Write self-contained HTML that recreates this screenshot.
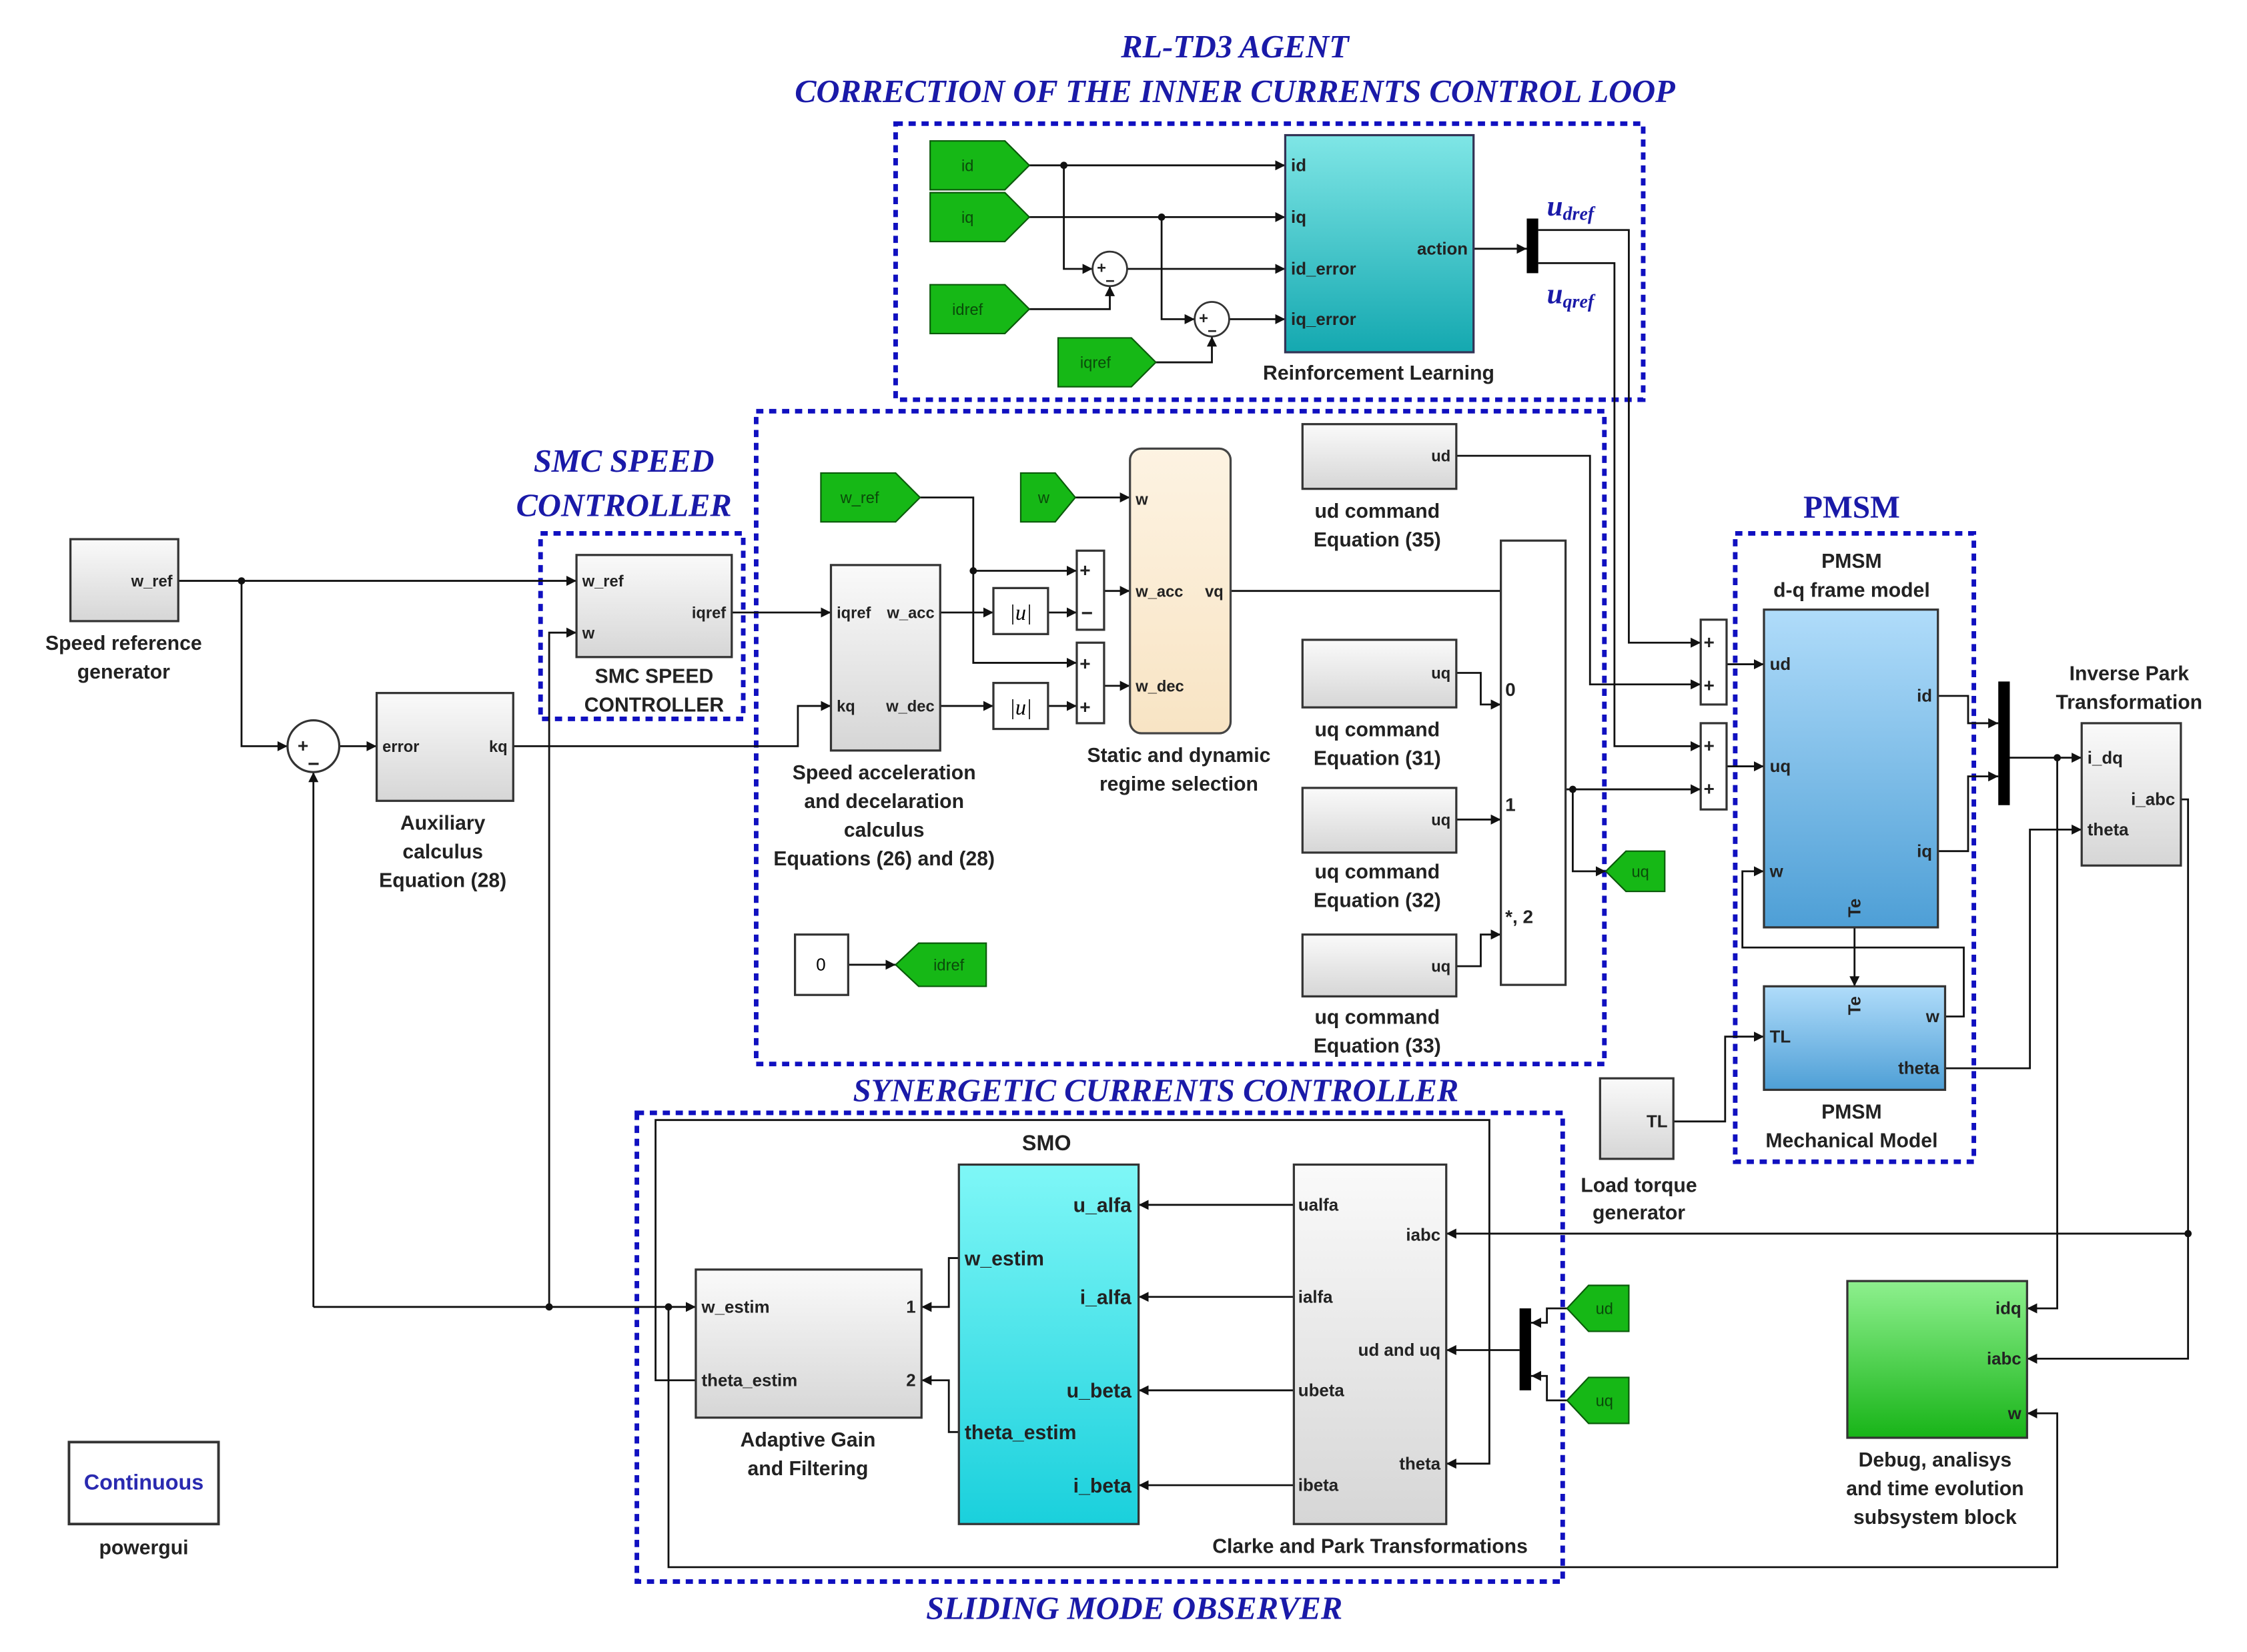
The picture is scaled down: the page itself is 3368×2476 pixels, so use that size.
<!DOCTYPE html>
<html><head><meta charset="utf-8">
<style>
html,body{margin:0;padding:0;background:#fff;}
svg{display:block;}
.t{font-family:"Liberation Sans",sans-serif;font-weight:bold;fill:#222;}
.ti{font-family:"Liberation Serif",serif;font-style:italic;font-weight:bold;fill:#1a1aa8;}
.w{fill:none;stroke:#111;stroke-width:1.3;}
.dash{fill:none;stroke:#1010c0;stroke-width:3.2;stroke-dasharray:5,4;}
.blk{fill:url(#gray);stroke:#333;stroke-width:1.5;}
.gt{fill:#16b816;stroke:#0a5a0a;stroke-width:1;}
.gl{font-family:"Liberation Sans",sans-serif;font-size:11px;fill:#0a4a0a;}
</style></head><body>
<svg width="3368" height="2476" viewBox="0 0 1563 1149" preserveAspectRatio="none" xmlns="http://www.w3.org/2000/svg">
<defs>
<marker id="a" viewBox="0 0 10 10" refX="10" refY="5" markerWidth="7" markerHeight="7" orient="auto" markerUnits="userSpaceOnUse"><path d="M0,0L10,5L0,10z" fill="#111"/></marker>
<linearGradient id="gray" x1="0" y1="0" x2="0" y2="1"><stop offset="0" stop-color="#fafafa"/><stop offset="1" stop-color="#d6d6d6"/></linearGradient>
<linearGradient id="teal" x1="0" y1="0" x2="0" y2="1"><stop offset="0" stop-color="#7fe6e6"/><stop offset="1" stop-color="#14a8b0"/></linearGradient>
<linearGradient id="cyan" x1="0" y1="0" x2="0" y2="1"><stop offset="0" stop-color="#7ff7f7"/><stop offset="1" stop-color="#1ad0dc"/></linearGradient>
<linearGradient id="blue" x1="0" y1="0" x2="0" y2="1"><stop offset="0" stop-color="#b0dcfa"/><stop offset="1" stop-color="#4e9fd6"/></linearGradient>
<linearGradient id="peach" x1="0" y1="0" x2="0" y2="1"><stop offset="0" stop-color="#fdf3e2"/><stop offset="1" stop-color="#f8e4c4"/></linearGradient>
<linearGradient id="green" x1="0" y1="0" x2="0" y2="1"><stop offset="0" stop-color="#8ef08e"/><stop offset="1" stop-color="#18b418"/></linearGradient>
</defs>

<!-- Titles -->
<text class="ti" x="859" y="40" font-size="22.5" text-anchor="middle">RL-TD3 AGENT</text>
<text class="ti" x="859" y="71" font-size="22.5" text-anchor="middle">CORRECTION OF THE INNER CURRENTS CONTROL LOOP</text>
<text class="ti" x="434" y="328" font-size="22.5" text-anchor="middle">SMC SPEED</text>
<text class="ti" x="434" y="359" font-size="22.5" text-anchor="middle">CONTROLLER</text>
<text class="ti" x="1288" y="360" font-size="22" text-anchor="middle" style="font-style:normal">PMSM</text>
<text class="ti" x="804" y="766" font-size="22.5" text-anchor="middle">SYNERGETIC CURRENTS CONTROLLER</text>
<text class="ti" x="789" y="1126" font-size="22.5" text-anchor="middle">SLIDING MODE OBSERVER</text>

<!-- Dashed groups -->
<rect class="dash" x="623" y="86" width="520" height="192"/>
<rect class="dash" x="376" y="371" width="141" height="129"/>
<rect class="dash" x="526" y="286" width="590" height="454"/>
<rect class="dash" x="1207" y="371" width="166" height="437"/>
<rect class="dash" x="443" y="774" width="644" height="326"/>

<!-- Wires -->
<g class="w">
<polyline points="124,404 401,404" marker-end="url(#a)"/>
<polyline points="168,404 168,519 200,519" marker-end="url(#a)"/>
<polyline points="236,519 262,519" marker-end="url(#a)"/>
<polyline points="357,519 555,519 555,491 578,491" marker-end="url(#a)"/>
<polyline points="218,909 218,537" marker-end="url(#a)"/>
<polyline points="218,909 484,909" marker-end="url(#a)"/>
<polyline points="382,909 382,440 401,440" marker-end="url(#a)"/>
<polyline points="509,426 578,426" marker-end="url(#a)"/>
<polyline points="640,346 677,346 677,397 749,397" marker-end="url(#a)"/>
<polyline points="677,397 677,461 749,461" marker-end="url(#a)"/>
<polyline points="654,426 691,426" marker-end="url(#a)"/>
<polyline points="729,426 749,426" marker-end="url(#a)"/>
<polyline points="654,491 691,491" marker-end="url(#a)"/>
<polyline points="729,491 749,491" marker-end="url(#a)"/>
<polyline points="768,411 786,411" marker-end="url(#a)"/>
<polyline points="768,477 786,477" marker-end="url(#a)"/>
<polyline points="748,346 786,346" marker-end="url(#a)"/>
<polyline points="856,411 1044,411"/>
<line x1="1044" y1="404" x2="1044" y2="418" stroke="#111" stroke-width="1.5"/>
<polyline points="1013,317 1106,317 1106,476 1183,476" marker-end="url(#a)"/>
<polyline points="1013,468 1030,468 1030,490 1044,490" marker-end="url(#a)"/>
<polyline points="1013,570 1044,570" marker-end="url(#a)"/>
<polyline points="1013,672 1030,672 1030,650 1044,650" marker-end="url(#a)"/>
<polyline points="1089,549 1183,549" marker-end="url(#a)"/>
<polyline points="1094,549 1094,606 1117,606" marker-end="url(#a)"/>
<polyline points="1066,490 1070,490 1080,515 1089,549"/>
<polyline points="590,671 623,671" marker-end="url(#a)"/>
<!-- RL -->
<polyline points="716,115 894,115" marker-end="url(#a)"/>
<polyline points="740,115 740,187 760,187" marker-end="url(#a)"/>
<polyline points="716,151 894,151" marker-end="url(#a)"/>
<polyline points="808,151 808,222 831,222" marker-end="url(#a)"/>
<polyline points="716,215 772,215 772,199" marker-end="url(#a)"/>
<polyline points="804,252 843,252 843,234" marker-end="url(#a)"/>
<polyline points="784,187 894,187" marker-end="url(#a)"/>
<polyline points="855,222 894,222" marker-end="url(#a)"/>
<polyline points="1025,173 1062,173" marker-end="url(#a)"/>
<polyline points="1070,160 1133,160 1133,447 1183,447" marker-end="url(#a)"/>
<polyline points="1070,183 1123,183 1123,519 1183,519" marker-end="url(#a)"/>
<!-- PMSM -->
<polyline points="1201,462 1227,462" marker-end="url(#a)"/>
<polyline points="1201,533 1227,533" marker-end="url(#a)"/>
<polyline points="1348,484 1369,484 1369,503 1390,503" marker-end="url(#a)"/>
<polyline points="1348,592 1369,592 1369,540 1390,540" marker-end="url(#a)"/>
<polyline points="1398,527 1448,527" marker-end="url(#a)"/>
<polyline points="1431,527 1431,910 1410,910" marker-end="url(#a)"/>
<polyline points="1290,645 1290,686" marker-end="url(#a)"/>
<polyline points="1353,707 1366,707 1366,659 1212,659 1212,606 1227,606" marker-end="url(#a)"/>
<polyline points="1353,743 1412,743 1412,577 1448,577" marker-end="url(#a)"/>
<polyline points="1164,780 1200,780 1200,721 1227,721" marker-end="url(#a)"/>
<polyline points="1517,556 1522,556 1522,858 1006,858" marker-end="url(#a)"/>
<polyline points="1522,858 1522,945 1410,945" marker-end="url(#a)"/>
<!-- SMO -->
<polyline points="900,838 792,838" marker-end="url(#a)"/>
<polyline points="900,902 792,902" marker-end="url(#a)"/>
<polyline points="900,967 792,967" marker-end="url(#a)"/>
<polyline points="900,1033 792,1033" marker-end="url(#a)"/>
<polyline points="667,875 660,875 660,909 641,909" marker-end="url(#a)"/>
<polyline points="667,996 660,996 660,960 641,960" marker-end="url(#a)"/>
<polyline points="1090,910 1076,910 1076,920 1065,920" marker-end="url(#a)"/>
<polyline points="1090,974 1076,974 1076,957 1065,957" marker-end="url(#a)"/>
<polyline points="1057,939 1006,939" marker-end="url(#a)"/>
<polyline points="484,960 456,960 456,779 1036,779 1036,1018 1006,1018" marker-end="url(#a)"/>
<polyline points="465,909 465,1090 1431,1090 1431,983 1410,983" marker-end="url(#a)"/>
</g>
<g fill="#111">
<circle cx="168" cy="404" r="2.5"/><circle cx="382" cy="909" r="2.5"/><circle cx="465" cy="909" r="2.5"/>
<circle cx="677" cy="397" r="2.5"/><circle cx="740" cy="115" r="2.5"/><circle cx="808" cy="151" r="2.5"/>
<circle cx="1094" cy="549" r="2.5"/><circle cx="1431" cy="527" r="2.5"/><circle cx="1522" cy="858" r="2.5"/>
</g>

<!-- Speed ref -->
<rect class="blk" x="49" y="375" width="75" height="57"/>
<text class="t" x="120" y="408" font-size="11" text-anchor="end">w_ref</text>
<text class="t" x="86" y="452" font-size="14" text-anchor="middle">Speed reference</text>
<text class="t" x="86" y="472" font-size="14" text-anchor="middle">generator</text>
<!-- sum -->
<circle cx="218" cy="519" r="18" fill="#fff" stroke="#333" stroke-width="1.5"/>
<text class="t" x="207" y="523" font-size="13">+</text><text class="t" x="214" y="536" font-size="14">−</text>
<!-- Aux -->
<rect class="blk" x="262" y="482" width="95" height="75"/>
<text class="t" x="266" y="523" font-size="11">error</text><text class="t" x="353" y="523" font-size="11" text-anchor="end">kq</text>
<text class="t" x="308" y="577" font-size="14" text-anchor="middle">Auxiliary</text>
<text class="t" x="308" y="597" font-size="14" text-anchor="middle">calculus</text>
<text class="t" x="308" y="617" font-size="14" text-anchor="middle">Equation (28)</text>
<!-- SMC -->
<rect class="blk" x="401" y="386" width="108" height="71"/>
<text class="t" x="405" y="408" font-size="11">w_ref</text><text class="t" x="405" y="444" font-size="11">w</text>
<text class="t" x="505" y="430" font-size="11" text-anchor="end">iqref</text>
<text class="t" x="455" y="475" font-size="14" text-anchor="middle">SMC SPEED</text>
<text class="t" x="455" y="495" font-size="14" text-anchor="middle">CONTROLLER</text>
<!-- Speed accel -->
<rect class="blk" x="578" y="393" width="76" height="129"/>
<text class="t" x="582" y="430" font-size="11">iqref</text><text class="t" x="650" y="430" font-size="11" text-anchor="end">w_acc</text>
<text class="t" x="582" y="495" font-size="11">kq</text><text class="t" x="650" y="495" font-size="11" text-anchor="end">w_dec</text>
<text class="t" x="615" y="542" font-size="14" text-anchor="middle">Speed acceleration</text>
<text class="t" x="615" y="562" font-size="14" text-anchor="middle">and decelaration</text>
<text class="t" x="615" y="582" font-size="14" text-anchor="middle">calculus</text>
<text class="t" x="615" y="602" font-size="14" text-anchor="middle">Equations (26) and (28)</text>
<!-- gotos -->
<path class="gt" d="M571,329H623L640,346L623,363H571Z"/><text class="gl" x="598" y="350" text-anchor="middle">w_ref</text>
<path class="gt" d="M710,329H734L748,346L734,363H710Z"/><text class="gl" x="726" y="350" text-anchor="middle">w</text>
<!-- abs -->
<rect x="691" y="409" width="38" height="32" fill="#fff" stroke="#333" stroke-width="1.5"/>
<text x="710" y="431" font-family="Liberation Serif,serif" font-style="italic" font-size="15" text-anchor="middle">|u|</text>
<rect x="691" y="475" width="38" height="32" fill="#fff" stroke="#333" stroke-width="1.5"/>
<text x="710" y="497" font-family="Liberation Serif,serif" font-style="italic" font-size="15" text-anchor="middle">|u|</text>
<!-- sums -->
<rect x="749" y="383" width="19" height="55" fill="#fff" stroke="#333" stroke-width="1.5"/>
<text class="t" x="751" y="401" font-size="13">+</text><text class="t" x="752" y="431" font-size="14">−</text>
<rect x="749" y="447" width="19" height="56" fill="#fff" stroke="#333" stroke-width="1.5"/>
<text class="t" x="751" y="466" font-size="13">+</text><text class="t" x="751" y="496" font-size="13">+</text>
<!-- static -->
<rect x="786" y="312" width="70" height="198" rx="8" fill="url(#peach)" stroke="#444" stroke-width="1.5"/>
<text class="t" x="790" y="351" font-size="11">w</text><text class="t" x="790" y="415" font-size="11">w_acc</text>
<text class="t" x="851" y="415" font-size="11" text-anchor="end">vq</text><text class="t" x="790" y="481" font-size="11">w_dec</text>
<text class="t" x="820" y="530" font-size="14" text-anchor="middle">Static and dynamic</text>
<text class="t" x="820" y="550" font-size="14" text-anchor="middle">regime selection</text>
<!-- commands -->
<rect class="blk" x="906" y="295" width="107" height="45"/><text class="t" x="1009" y="321" font-size="11" text-anchor="end">ud</text>
<text class="t" x="958" y="360" font-size="14" text-anchor="middle">ud command</text><text class="t" x="958" y="380" font-size="14" text-anchor="middle">Equation (35)</text>
<rect class="blk" x="906" y="445" width="107" height="47"/><text class="t" x="1009" y="472" font-size="11" text-anchor="end">uq</text>
<text class="t" x="958" y="512" font-size="14" text-anchor="middle">uq command</text><text class="t" x="958" y="532" font-size="14" text-anchor="middle">Equation (31)</text>
<rect class="blk" x="906" y="548" width="107" height="45"/><text class="t" x="1009" y="574" font-size="11" text-anchor="end">uq</text>
<text class="t" x="958" y="611" font-size="14" text-anchor="middle">uq command</text><text class="t" x="958" y="631" font-size="14" text-anchor="middle">Equation (32)</text>
<rect class="blk" x="906" y="650" width="107" height="43"/><text class="t" x="1009" y="676" font-size="11" text-anchor="end">uq</text>
<text class="t" x="958" y="712" font-size="14" text-anchor="middle">uq command</text><text class="t" x="958" y="732" font-size="14" text-anchor="middle">Equation (33)</text>
<!-- switch -->
<rect x="1044" y="376" width="45" height="309" fill="#fff" stroke="#333" stroke-width="1.5"/>
<text class="t" x="1047" y="484" font-size="13">0</text><text class="t" x="1047" y="564" font-size="13">1</text><text class="t" x="1047" y="642" font-size="13">*, 2</text>
<path class="gt" d="M1117,606L1131,592H1158V620H1131Z"/><text class="gl" x="1141" y="610" text-anchor="middle">uq</text>
<rect x="553" y="650" width="37" height="42" fill="#fff" stroke="#333" stroke-width="1.5"/><text x="571" y="675" font-family="Liberation Sans,sans-serif" font-size="12" text-anchor="middle">0</text>
<path class="gt" d="M623,671L639,656H686V686H639Z"/><text class="gl" x="660" y="675" text-anchor="middle">idref</text>
<!-- RL -->
<path class="gt" d="M647,98H699L716,115L699,132H647Z"/><text class="gl" x="673" y="119" text-anchor="middle">id</text>
<path class="gt" d="M647,134H699L716,151L699,168H647Z"/><text class="gl" x="673" y="155" text-anchor="middle">iq</text>
<path class="gt" d="M647,198H699L716,215L699,232H647Z"/><text class="gl" x="673" y="219" text-anchor="middle">idref</text>
<path class="gt" d="M736,235H787L804,252L787,269H736Z"/><text class="gl" x="762" y="256" text-anchor="middle">iqref</text>
<circle cx="772" cy="187" r="12" fill="#fff" stroke="#333" stroke-width="1.3"/><text class="t" x="763" y="190" font-size="11">+</text><text class="t" x="769" y="199" font-size="11">−</text>
<circle cx="843" cy="222" r="12" fill="#fff" stroke="#333" stroke-width="1.3"/><text class="t" x="834" y="225" font-size="11">+</text><text class="t" x="840" y="234" font-size="11">−</text>
<rect x="894" y="94" width="131" height="151" fill="url(#teal)" stroke="#335" stroke-width="1.5"/>
<text class="t" x="898" y="119" font-size="12">id</text><text class="t" x="898" y="155" font-size="12">iq</text>
<text class="t" x="898" y="191" font-size="12">id_error</text><text class="t" x="898" y="226" font-size="12">iq_error</text>
<text class="t" x="1021" y="177" font-size="12" text-anchor="end">action</text>
<text class="t" x="959" y="264" font-size="14" text-anchor="middle">Reinforcement Learning</text>
<rect x="1062" y="152" width="8" height="38" fill="#000"/>
<text class="ti" x="1076" y="150" font-size="20">u<tspan font-size="13" dy="3">dref</tspan></text>
<text class="ti" x="1076" y="211" font-size="20">u<tspan font-size="13" dy="3">qref</tspan></text>
<!-- PMSM sums -->
<rect x="1183" y="431" width="18" height="59" fill="#fff" stroke="#333" stroke-width="1.5"/>
<text class="t" x="1185" y="451" font-size="13">+</text><text class="t" x="1185" y="481" font-size="13">+</text>
<rect x="1183" y="503" width="18" height="60" fill="#fff" stroke="#333" stroke-width="1.5"/>
<text class="t" x="1185" y="523" font-size="13">+</text><text class="t" x="1185" y="553" font-size="13">+</text>
<text class="t" x="1288" y="395" font-size="14" text-anchor="middle">PMSM</text>
<text class="t" x="1288" y="415" font-size="14" text-anchor="middle">d-q frame model</text>
<rect x="1227" y="424" width="121" height="221" fill="url(#blue)" stroke="#333" stroke-width="1.5"/>
<text class="t" x="1231" y="466" font-size="12">ud</text><text class="t" x="1231" y="537" font-size="12">uq</text><text class="t" x="1231" y="610" font-size="12">w</text>
<text class="t" x="1344" y="488" font-size="12" text-anchor="end">id</text><text class="t" x="1344" y="596" font-size="12" text-anchor="end">iq</text>
<text class="t" x="0" y="0" font-size="12" transform="translate(1294,638) rotate(-90)">Te</text>
<rect x="1227" y="686" width="126" height="72" fill="url(#blue)" stroke="#333" stroke-width="1.5"/>
<text class="t" x="1231" y="725" font-size="12">TL</text>
<text class="t" x="1349" y="711" font-size="12" text-anchor="end">w</text><text class="t" x="1349" y="747" font-size="12" text-anchor="end">theta</text>
<text class="t" x="0" y="0" font-size="12" transform="translate(1294,706) rotate(-90)">Te</text>
<text class="t" x="1288" y="778" font-size="14" text-anchor="middle">PMSM</text>
<text class="t" x="1288" y="798" font-size="14" text-anchor="middle">Mechanical Model</text>
<rect x="1390" y="474" width="8" height="86" fill="#000"/>
<text class="t" x="1481" y="473" font-size="14" text-anchor="middle">Inverse Park</text>
<text class="t" x="1481" y="493" font-size="14" text-anchor="middle">Transformation</text>
<rect class="blk" x="1448" y="503" width="69" height="99"/>
<text class="t" x="1452" y="531" font-size="12">i_dq</text><text class="t" x="1452" y="581" font-size="12">theta</text>
<text class="t" x="1513" y="560" font-size="12" text-anchor="end">i_abc</text>
<!-- Load torque -->
<rect class="blk" x="1113" y="750" width="51" height="56"/>
<text class="t" x="1160" y="784" font-size="12" text-anchor="end">TL</text>
<text class="t" x="1140" y="829" font-size="14" text-anchor="middle">Load torque</text>
<text class="t" x="1140" y="848" font-size="14" text-anchor="middle">generator</text>
<!-- Debug -->
<rect x="1285" y="891" width="125" height="109" fill="url(#green)" stroke="#333" stroke-width="1.5"/>
<text class="t" x="1406" y="914" font-size="12" text-anchor="end">idq</text><text class="t" x="1406" y="949" font-size="12" text-anchor="end">iabc</text>
<text class="t" x="1406" y="987" font-size="12" text-anchor="end">w</text>
<text class="t" x="1346" y="1020" font-size="14" text-anchor="middle">Debug, analisys</text>
<text class="t" x="1346" y="1040" font-size="14" text-anchor="middle">and time evolution</text>
<text class="t" x="1346" y="1060" font-size="14" text-anchor="middle">subsystem block</text>
<!-- SMO -->
<text class="t" x="728" y="800" font-size="15" text-anchor="middle">SMO</text>
<rect x="667" y="810" width="125" height="250" fill="url(#cyan)" stroke="#333" stroke-width="1.5"/>
<text class="t" x="787" y="843" font-size="14" text-anchor="end">u_alfa</text>
<text class="t" x="671" y="880" font-size="14">w_estim</text>
<text class="t" x="787" y="907" font-size="14" text-anchor="end">i_alfa</text>
<text class="t" x="787" y="972" font-size="14" text-anchor="end">u_beta</text>
<text class="t" x="671" y="1001" font-size="14">theta_estim</text>
<text class="t" x="787" y="1038" font-size="14" text-anchor="end">i_beta</text>
<rect class="blk" x="484" y="883" width="157" height="103"/>
<text class="t" x="488" y="913" font-size="12">w_estim</text><text class="t" x="488" y="964" font-size="12">theta_estim</text>
<text class="t" x="637" y="913" font-size="12" text-anchor="end">1</text><text class="t" x="637" y="964" font-size="12" text-anchor="end">2</text>
<text class="t" x="562" y="1006" font-size="14" text-anchor="middle">Adaptive Gain</text>
<text class="t" x="562" y="1026" font-size="14" text-anchor="middle">and Filtering</text>
<rect class="blk" x="900" y="810" width="106" height="250"/>
<text class="t" x="903" y="842" font-size="12">ualfa</text><text class="t" x="903" y="906" font-size="12">ialfa</text>
<text class="t" x="903" y="971" font-size="12">ubeta</text><text class="t" x="903" y="1037" font-size="12">ibeta</text>
<text class="t" x="1002" y="863" font-size="12" text-anchor="end">iabc</text>
<text class="t" x="1002" y="943" font-size="12" text-anchor="end">ud and uq</text>
<text class="t" x="1002" y="1022" font-size="12" text-anchor="end">theta</text>
<text class="t" x="953" y="1080" font-size="14" text-anchor="middle">Clarke and Park Transformations</text>
<rect x="1057" y="910" width="8" height="57" fill="#000"/>
<path class="gt" d="M1090,910L1105,894H1133V926H1105Z"/><text class="gl" x="1116" y="914" text-anchor="middle">ud</text>
<path class="gt" d="M1090,974L1105,958H1133V990H1105Z"/><text class="gl" x="1116" y="978" text-anchor="middle">uq</text>
<!-- powergui -->
<rect x="48" y="1003" width="104" height="57" fill="#fff" stroke="#333" stroke-width="1.8"/>
<text x="100" y="1036" font-family="Liberation Sans,sans-serif" font-weight="bold" font-size="15" fill="#2a2ab0" text-anchor="middle">Continuous</text>
<text class="t" x="100" y="1081" font-size="14" text-anchor="middle">powergui</text>
</svg>
</body></html>
